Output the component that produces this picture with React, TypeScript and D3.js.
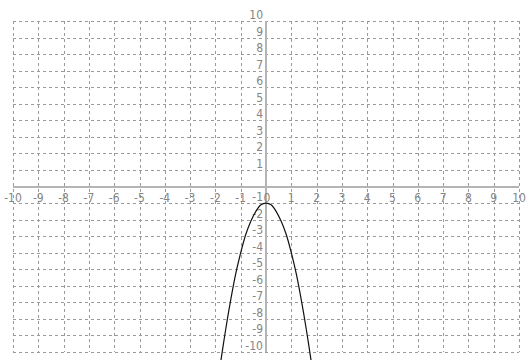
import React, { useEffect, useRef } from 'react';
import * as d3 from 'd3';

// grid ticks
const ticks = [-10, -9, -8, -7, -6, -5, -4, -3, -2, -1, 0, 1, 2, 3, 4, 5, 6, 7, 8, 9, 10];

// points of the curve
const curveX = [-1.8, -1.6, -1.4, -1.2, -1.0, -0.8, -0.6, -0.4, -0.2, 0, 0.2, 0.4, 0.6, 0.8, 1.0, 1.2, 1.4, 1.6, 1.8];
const curveY = [-10.7, -8.7, -6.9, -5.3, -4.0, -2.9, -2.1, -1.5, -1.1, -1.0, -1.1, -1.5, -2.1, -2.9, -4.0, -5.3, -6.9, -8.7, -10.7];

const W = 531;
const H = 360;

const App = () => {
  const ref = useRef<SVGSVGElement>(null);

  useEffect(() => {
    if (!ref.current) return;
    const svg = d3.select(ref.current);
    svg.selectAll('*').remove();

    const x = d3.scaleLinear().domain([-10, 10]).range([13, 519]);
    const y = d3.scaleLinear().domain([-10, 10]).range([352, 21]);

    const grid = svg.append('g')
      .attr('stroke', '#9a9a9a')
      .attr('stroke-width', 1)
      .attr('stroke-dasharray', '3,3')
      .attr('shape-rendering', 'crispEdges');

    grid.selectAll('line.v')
      .data(ticks.filter((t) => t !== 0))
      .join('line')
      .attr('class', 'v')
      .attr('x1', (d) => Math.round(x(d)) + 0.5)
      .attr('x2', (d) => Math.round(x(d)) + 0.5)
      .attr('y1', y(10))
      .attr('y2', y(-10));

    grid.selectAll('line.h')
      .data(ticks.filter((t) => t !== 0))
      .join('line')
      .attr('class', 'h')
      .attr('y1', (d) => Math.round(y(d)) + 0.5)
      .attr('y2', (d) => Math.round(y(d)) + 0.5)
      .attr('x1', x(-10))
      .attr('x2', x(10));

    // axes
    const axes = svg.append('g')
      .attr('stroke', '#b4b4b4')
      .attr('stroke-width', 2)
      .attr('shape-rendering', 'crispEdges');
    axes.append('line')
      .attr('x1', x(-10)).attr('x2', x(10))
      .attr('y1', Math.round(y(0))).attr('y2', Math.round(y(0)));
    axes.append('line')
      .attr('x1', Math.round(x(0))).attr('x2', Math.round(x(0)))
      .attr('y1', y(10)).attr('y2', y(-10));

    const font = '"Liberation Sans Narrow", "DejaVu Sans Condensed", Arial, sans-serif';

    // x labels
    svg.append('g')
      .selectAll('text')
      .data(ticks)
      .join('text')
      .attr('x', (d) => x(d) + (d === 0 ? 1 : 0))
      .attr('y', y(0) + 15)
      .attr('text-anchor', 'middle')
      .attr('font-family', font)
      .attr('font-size', 12)
      .attr('fill', '#858585')
      .text((d) => d);

    // y labels
    svg.append('g')
      .selectAll('text')
      .data(ticks.filter((t) => t !== 0))
      .join('text')
      .attr('x', x(0) - 3)
      .attr('y', (d) => y(d) - 2)
      .attr('text-anchor', 'end')
      .attr('font-family', font)
      .attr('font-size', 12)
      .attr('fill', '#858585')
      .text((d) => d);

    const pts: [number, number][] = curveX.map((v, i) => [v, curveY[i]]);
    const line = d3.line<[number, number]>()
      .x((d) => x(d[0]))
      .y((d) => y(d[1]))
      .curve(d3.curveCatmullRom);

    svg.append('path')
      .datum(pts)
      .attr('fill', 'none')
      .attr('stroke', '#111')
      .attr('stroke-width', 1.2)
      .attr('d', line);
  }, []);

  return (
    <svg
      ref={ref}
      width={W}
      height={H}
      style={{ position: 'absolute', left: 0, top: 0, background: '#fff' }}
    />
  );
};

export default App;
